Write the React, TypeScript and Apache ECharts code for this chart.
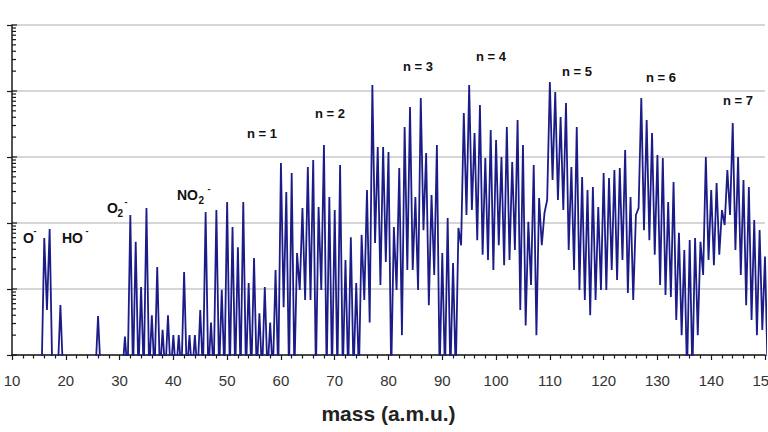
import React, { useEffect, useRef } from "react";
import * as echarts from "echarts";

// Value used where the signal falls below the axis floor (the line is clipped at the baseline).
const F = 0.5;

// Integer masses (amu) at which the spectrum peaks.
const masses = [
  10, 11, 12, 13, 14, 15, 16, 17, 18, 19, 20, 21, 22, 23, 24, 25, 26, 27, 28, 29,
  30, 31, 32, 33, 34, 35, 36, 37, 38, 39, 40, 41, 42, 43, 44, 45, 46, 47, 48, 49,
  50, 51, 52, 53, 54, 55, 56, 57, 58, 59, 60, 61, 62, 63, 64, 65, 66, 67, 68, 69,
  70, 71, 72, 73, 74, 75, 76, 77, 78, 79, 80, 81, 82, 83, 84, 85, 86, 87, 88, 89,
  90, 91, 92, 93, 94, 95, 96, 97, 98, 99, 100, 101, 102, 103, 104, 105, 106, 107, 108, 109,
  110, 111, 112, 113, 114, 115, 116, 117, 118, 119, 120, 121, 122, 123, 124, 125, 126, 127, 128, 129,
  130, 131, 132, 133, 134, 135, 136, 137, 138, 139, 140, 141, 142, 143, 144, 145, 146, 147, 148, 149,
  150, 151,
];

// Peak intensity at each mass above (counts).
const peakIntensity = [
  F, F, F, F, F, F, 59, 81, F, 5.7,
  F, F, F, F, F, F, 3.9, F, F, F,
  F, 1.9, 132, 52, 10.7, 169, 4.0, 21.5, 2.4, 4.0,
  2.0, 2.0, 18.1, 2.0, 2.0, 4.8, 147, 3.1, 157, 9.7,
  208, 87, 43, 208, 12.3, 29.5, 4.3, 10.7, 3.1, 19.4,
  811, 295, 572, 35, 169, 705, 901, 175, 1520, 248,
  157, 757, 27.5, 61, 12.3, 66, 316, 12300, 1420, 1420,
  1190, 87, 681, 2850, 5720, 248, 7830, 1150, 266, 1520,
  35, 119, 24.8, 84, 4640, 12300, 2310, 6140, 966, 2570,
  1810, 1000, 2850, 840, 3640, 1520, 104, 757, 239, 142,
  13700, 9660, 4040, 6580, 705, 2850, 497, 316, 351, 175,
  572, 481, 635, 681, 1280, 248, 132, 7830, 3640, 2310,
  1070, 966, 208, 418, 71, 39, 55, 59, 52, 1000,
  316, 404, 157, 635, 3280, 1000, 448, 351, 111, 78,
  31, 19.4,
];

// Lowest intensity between mass m and m + 1 (counts), for m = 10 … 150.
const valleyIntensity = [
  F, F, F, F, F, F, 4.8, F, F, F,
  F, F, F, F, F, F, F, F, F, F,
  F, F, F, F, F, F, F, F, F, F,
  F, F, F, F, F, F, F, F, F, F,
  F, F, F, F, F, F, F, F, F, F,
  5.3, F, F, 9.7, 6.8, 6.8, F, 9.7, F, F,
  F, F, F, F, F, 6.8, 3.1, 50, 11.5, 25.7,
  F, 9.7, 2.0, 19.4, 19.4, 9.7, 78, 5.7, 16.3, F,
  F, F, F, 46, 132, 157, 55, 33, 27.5, 19.4,
  46, 23, 27.5, 39, 4.8, 2.8, 11.5, 2.0, 46, 223,
  448, 223, 157, 39, 19.4, 9.7, 6.8, 4.0, 6.8, 9.7,
  9.7, 19.4, 13.7, 27.5, 8.7, 6.8, 169, 78, 55, 33,
  11.5, 8.1, 7.6, 3.4, 2.0, F, F, 2.0, 16.3, 27.5,
  23, 33, 93, 132, 39, 16.3, 5.7, 3.4, 2.0, 2.4,
  F,
];

// Decades of the logarithmic intensity axis.
const decades = [1, 10, 100, 1000, 10000, 100000];

const FONT = '"Liberation Sans", Arial, sans-serif';
const INK = "#1a1a1a";

function buildSpectrum(): number[][] {
  const pts: number[][] = [];
  masses.forEach((m, i) => {
    pts.push([m, peakIntensity[i]]);
    if (i < valleyIntensity.length) pts.push([m + 0.5, valleyIntensity[i]]);
  });
  return pts;
}

function buildLogTicks(): number[][] {
  const ticks: number[][] = [];
  decades.forEach((d, i) => {
    ticks.push([10, d, 1]);
    if (i < decades.length - 1) {
      for (let k = 2; k <= 9; k++) ticks.push([10, d * k, 0]);
    }
  });
  return ticks;
}

function label(text: string, x: number, y: number, size: number, align = "left") {
  return {
    type: "text",
    x,
    y,
    silent: true,
    style: {
      text,
      font: `bold ${size}px ${FONT}`,
      fill: "#111",
      textAlign: align,
      textVerticalAlign: "middle",
      align,
      verticalAlign: "middle",
    },
  };
}

export default function App() {
  const ref = useRef<HTMLDivElement>(null);

  useEffect(() => {
    document.documentElement.style.overflow = "hidden";
    document.body.style.margin = "0";
    document.body.style.overflow = "hidden";
    const chart = echarts.init(ref.current!, null, { renderer: "svg", width: 768, height: 432 });
    chart.setOption({
      animation: false,
      backgroundColor: "#ffffff",
      grid: {
        left: 12,
        right: 3,
        top: 25,
        bottom: 77,
        containLabel: false,
        outerBoundsMode: "none",
      },
      xAxis: {
        type: "value",
        min: 10,
        max: 150,
        interval: 10,
        name: "mass (a.m.u.)",
        nameLocation: "middle",
        nameGap: 48,
        nameTextStyle: { fontFamily: FONT, fontSize: 21, fontWeight: "bold", color: "#222" },
        axisLine: { show: true, onZero: false, lineStyle: { color: INK, width: 1.5 } },
        axisTick: { show: true, length: 5, lineStyle: { color: INK, width: 1.2 } },
        minorTick: { show: true, splitNumber: 5, length: 3.5, lineStyle: { color: INK, width: 1.2 } },
        splitLine: { show: false },
        axisLabel: {
          fontFamily: FONT,
          fontSize: 15,
          color: "#333",
          margin: 18,
          formatter: (v: number) => (v % 10 === 0 ? String(v) : ""),
        },
      },
      yAxis: {
        type: "log",
        logBase: 10,
        min: 1,
        max: 100000,
        axisLine: { show: true, lineStyle: { color: INK, width: 1.5 } },
        axisTick: { show: true, length: 5, lineStyle: { color: INK, width: 1.2 } },
        minorTick: { show: false },
        axisLabel: { show: false },
        splitLine: { show: true, lineStyle: { color: "#c8c8c8", width: 1.5 } },
      },
      series: [
        {
          name: "spectrum",
          type: "line",
          data: buildSpectrum(),
          showSymbol: false,
          symbol: "none",
          clip: true,
          silent: true,
          lineStyle: { color: "#1c1c88", width: 1.8, join: "miter", miterLimit: 4 },
          z: 3,
        },
        {
          name: "log ticks",
          type: "custom",
          data: buildLogTicks(),
          silent: true,
          clip: false,
          z: 4,
          renderItem: (params: any, api: any) => {
            const p = api.coord([api.value(0), api.value(1)]);
            const len = api.value(2) === 1 ? 5 : 4;
            return {
              type: "line",
              shape: { x1: p[0], y1: p[1], x2: p[0] + len, y2: p[1] },
              style: { stroke: INK, lineWidth: 1.2 },
            };
          },
        },
      ],
      graphic: [
        label("O", 23, 238, 14),
        label("-", 35, 231, 9, "center"),
        label("HO", 62, 238, 14),
        label("-", 87, 231, 9, "center"),
        label("O", 107, 208, 14),
        label("2", 117.5, 213, 10),
        label("-", 126, 202, 9, "center"),
        label("NO", 177, 195, 14),
        label("2", 198.5, 200, 10),
        label("-", 209, 189, 9, "center"),
        label("n = 1", 262, 133, 13, "center"),
        label("n = 2", 330, 113, 13, "center"),
        label("n = 3", 418, 66, 13, "center"),
        label("n = 4", 491, 56, 13, "center"),
        label("n = 5", 577, 71, 13, "center"),
        label("n = 6", 661, 77, 13, "center"),
        label("n = 7", 738, 100, 13, "center"),
      ],
    });
    return () => chart.dispose();
  }, []);

  return (
    <div
      ref={ref}
      style={{ position: "absolute", left: 0, top: 0, width: 768, height: 432, background: "#ffffff" }}
    />
  );
}
